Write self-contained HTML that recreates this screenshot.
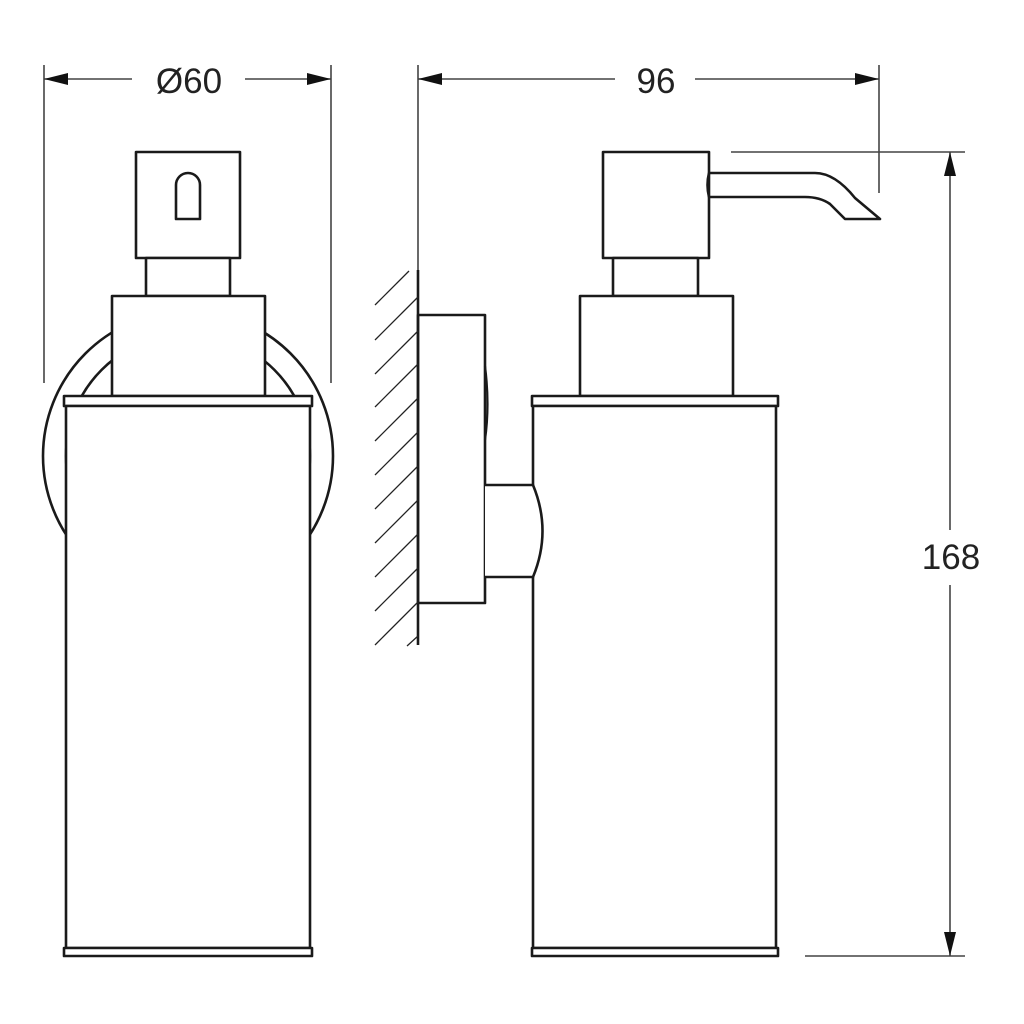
<!DOCTYPE html>
<html><head><style>html,body{margin:0;padding:0;background:#fff}svg{display:block}</style></head>
<body>
<svg width="1024" height="1024" viewBox="0 0 1024 1024" xmlns="http://www.w3.org/2000/svg">
<rect width="1024" height="1024" fill="#fff"/>
<defs>
<clipPath id="outside"><path d="M0 0H1024V1024H0Z M112 296H265V396H312V406H310V1024H66V406H64V396H112Z" clip-rule="evenodd"/></clipPath>
</defs>
<g fill="none" stroke="#1a1a1a" stroke-width="2.6" stroke-linejoin="round">
<g clip-path="url(#outside)">
<circle cx="188" cy="456" r="145"/>
<circle cx="188" cy="456" r="122"/>
</g>
<rect x="136" y="152" width="104" height="106" fill="#fff"/>
<path d="M176 219V185A12 12 0 0 1 200 185V219Z" />
<rect x="146" y="258" width="84" height="38" fill="#fff"/>
<rect x="112" y="296" width="153" height="100" fill="#fff"/>
<rect x="64" y="396" width="248" height="10" fill="#fff"/>
<rect x="66" y="406" width="244" height="542" fill="#fff"/>
<rect x="64" y="948" width="248" height="8" fill="#fff"/>
<line x1="418" y1="270" x2="418" y2="645"/>
<rect x="418" y="315" width="67" height="288"/>
<path d="M485 366Q490 405 485 440" stroke-width="2.2"/>
<rect x="603" y="152" width="106" height="106" fill="#fff"/>
<path d="M709 173H815Q835 173 855 198L880 219H845L830 204Q820 197 805 197H709" />
<path d="M709 173Q706 185 709 197"/>
<rect x="613" y="258" width="85" height="38" fill="#fff"/>
<rect x="580" y="296" width="153" height="100" fill="#fff"/>
<rect x="532" y="396" width="246" height="10" fill="#fff"/>
<rect x="533" y="406" width="243" height="542" fill="#fff"/>
<rect x="532" y="948" width="246" height="8" fill="#fff"/>
<path d="M485 485H533Q552 531 533 577H485" fill="#fff"/>
</g>
<g stroke="#222" stroke-width="1.3">
<line x1="375" y1="305" x2="409" y2="271"/>
<line x1="375" y1="340" x2="418" y2="297"/>
<line x1="375" y1="374" x2="418" y2="331"/>
<line x1="375" y1="407" x2="418" y2="364"/>
<line x1="375" y1="441" x2="418" y2="398"/>
<line x1="375" y1="475" x2="418" y2="432"/>
<line x1="375" y1="509" x2="418" y2="466"/>
<line x1="375" y1="543" x2="418" y2="500"/>
<line x1="375" y1="577" x2="418" y2="534"/>
<line x1="375" y1="611" x2="418" y2="568"/>
<line x1="375" y1="645" x2="418" y2="602"/>
<line x1="407" y1="646" x2="418" y2="636"/>
</g>
<g stroke="#444" stroke-width="1.6" fill="none">
<line x1="44" y1="65" x2="44" y2="383"/>
<line x1="331" y1="65" x2="331" y2="383"/>
<line x1="44" y1="79" x2="132" y2="79"/>
<line x1="245" y1="79" x2="331" y2="79"/>
<line x1="418" y1="65" x2="418" y2="270"/>
<line x1="879" y1="65" x2="879" y2="193"/>
<line x1="418" y1="79" x2="615" y2="79"/>
<line x1="695" y1="79" x2="879" y2="79"/>
<line x1="731" y1="152" x2="965" y2="152"/>
<line x1="805" y1="956" x2="965" y2="956"/>
<line x1="950" y1="152" x2="950" y2="530"/>
<line x1="950" y1="585" x2="950" y2="956"/>
</g>
<g fill="#111">
<path d="M44 79L68 73V85Z"/>
<path d="M331 79L307 73V85Z"/>
<path d="M418 79L442 73V85Z"/>
<path d="M879 79L855 73V85Z"/>
<path d="M950 152L944 176H956Z"/>
<path d="M950 956L944 932H956Z"/>
</g>
<g font-family="Liberation Sans, sans-serif" font-size="35" fill="#222" text-anchor="middle">
<text x="189" y="93">Ø60</text>
<text x="656" y="93">96</text>
<text x="951" y="569">168</text>
</g>
</svg>
</body></html>
